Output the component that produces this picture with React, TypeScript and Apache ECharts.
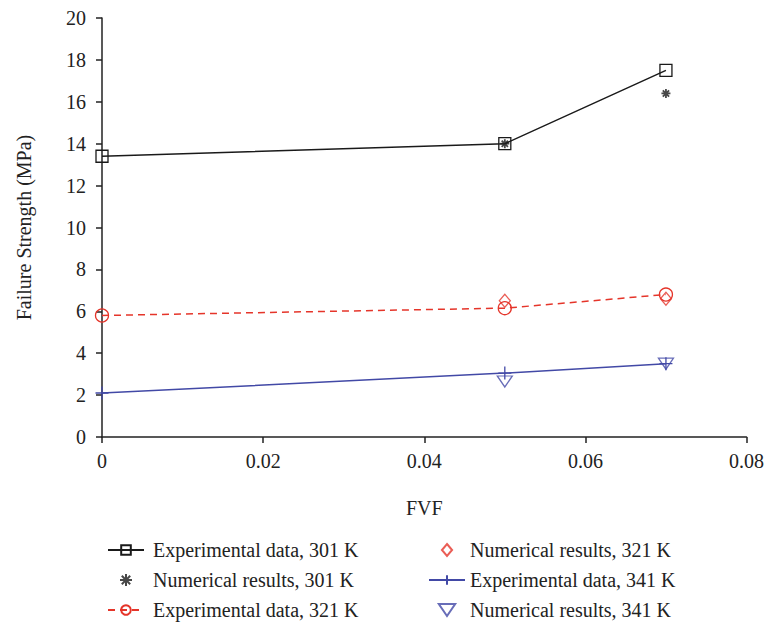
import React, { useEffect, useRef } from "react";
import * as echarts from "echarts";

const fvf = [0, 0.05, 0.07];
const exp301 = [13.4, 14.0, 17.5];
const numFvf = [0.05, 0.07];
const num301 = [14.0, 16.4];
const exp321 = [5.8, 6.15, 6.8];
const num321 = [6.5, 6.6];
const exp341 = [2.1, 3.05, 3.5];
const num341 = [2.65, 3.5];

const names = [
  "Experimental data, 301 K",
  "Numerical results, 301 K",
  "Experimental data, 321 K",
  "Numerical results, 321 K",
  "Experimental data, 341 K",
  "Numerical results, 341 K",
];

const BLACK = "#1a1a1a";
const RED = "#e5352a";
const BLUE = "#4249a6";
const FONT = "Liberation Serif";

const ASTERISK = "path://M5,0L5,10M0,5L10,5M1.5,1.5L8.5,8.5M1.5,8.5L8.5,1.5";
const PLUS = "path://M5,0L5,10M0,5L10,5";
const DIAMOND = "path://M5.5,0L11,6.5L5.5,13L0,6.5Z";
const TRI_DOWN = "path://M0,0L15,0L7.5,11Z";

const pairs = (xs: number[], ys: number[]) => xs.map((x, i) => [x, ys[i]]);

export default function App() {
  const ref = useRef<HTMLDivElement>(null);
  useEffect(() => {
    document.body.style.margin = "0";
    const chart = echarts.init(ref.current!, undefined, { renderer: "svg" });
    const legendBase = {
      orient: "vertical",
      top: 535,
      itemGap: 10,
      itemWidth: 36,
      itemHeight: 12,
      symbolKeepAspect: true,
    };
    chart.setOption({
      animation: false,
      backgroundColor: "#fff",
      textStyle: { fontFamily: FONT },
      grid: { left: 102, right: 19, top: 18, bottom: 190 },
      legend: [
        {
          ...legendBase,
          left: 102,
          textStyle: { fontFamily: FONT, fontSize: 20, color: "#222", padding: [0, 0, 0, 4] },
          data: names.slice(0, 3),
        },
        {
          ...legendBase,
          left: 423,
          textStyle: { fontFamily: FONT, fontSize: 20, color: "#222", padding: [0, 0, 0, 0] },
          data: names.slice(3, 6),
        },
      ],
      xAxis: {
        type: "value",
        min: 0,
        max: 0.08,
        interval: 0.02,
        name: "FVF",
        nameLocation: "middle",
        nameGap: 61,
        nameTextStyle: { fontFamily: FONT, fontSize: 20, color: "#222" },
        axisLine: { show: true, lineStyle: { color: "#222", width: 1.5 } },
        axisTick: { show: true, inside: false, length: 6, lineStyle: { color: "#222", width: 1.5 } },
        axisLabel: {
          fontFamily: FONT,
          fontSize: 20,
          color: "#222",
          margin: 14,
          formatter: (v: number) => (v === 0 ? "0" : v.toFixed(2)),
        },
        splitLine: { show: false },
      },
      yAxis: {
        type: "value",
        min: 0,
        max: 20,
        interval: 2,
        name: "Failure Strength (MPa)",
        nameLocation: "middle",
        nameGap: 68,
        nameTextStyle: { fontFamily: FONT, fontSize: 20, color: "#222" },
        axisLine: { show: true, lineStyle: { color: "#222", width: 1.5 } },
        axisTick: { show: true, inside: false, length: 6, lineStyle: { color: "#222", width: 1.5 } },
        axisLabel: { fontFamily: FONT, fontSize: 20, color: "#222", margin: 16 },
        splitLine: { show: false },
      },
      series: [
        {
          name: names[0],
          type: "line",
          data: pairs(fvf, exp301),
          symbol: "rect",
          symbolSize: 12,
          showAllSymbol: true,
          lineStyle: { color: BLACK, width: 1.5 },
          itemStyle: { color: "rgba(255,255,255,0)", borderColor: BLACK, borderWidth: 1.3 },
          z: 3,
        },
        {
          name: names[1],
          type: "scatter",
          data: pairs(numFvf, num301),
          symbol: ASTERISK,
          symbolSize: 9,
          itemStyle: { color: "rgba(0,0,0,0)", borderColor: BLACK, borderWidth: 1.8 },
          z: 4,
        },
        {
          name: names[2],
          type: "line",
          data: pairs(fvf, exp321),
          symbol: "circle",
          symbolSize: 13,
          showAllSymbol: true,
          lineStyle: { color: RED, width: 1.5, type: [7, 5] },
          itemStyle: { color: "rgba(255,255,255,0)", borderColor: RED, borderWidth: 1.3 },
          z: 3,
        },
        {
          name: names[3],
          type: "scatter",
          data: pairs(numFvf, num321),
          symbol: DIAMOND,
          symbolSize: [11, 13],
          itemStyle: { color: "rgba(255,255,255,0)", borderColor: RED, borderWidth: 1.3 },
          z: 4,
        },
        {
          name: names[4],
          type: "line",
          data: pairs(fvf, exp341),
          symbol: PLUS,
          symbolSize: 13,
          showAllSymbol: true,
          lineStyle: { color: BLUE, width: 1.5 },
          itemStyle: { color: "rgba(255,255,255,0)", borderColor: BLUE, borderWidth: 1.3 },
          z: 3,
        },
        {
          name: names[5],
          type: "scatter",
          data: pairs(numFvf, num341),
          symbol: TRI_DOWN,
          symbolSize: [15, 11],
          itemStyle: { color: "rgba(255,255,255,0)", borderColor: BLUE, borderWidth: 1.3 },
          z: 4,
        },
      ],
    });
    return () => chart.dispose();
  }, []);
  return <div ref={ref} style={{ width: 767, height: 627 }} />;
}
